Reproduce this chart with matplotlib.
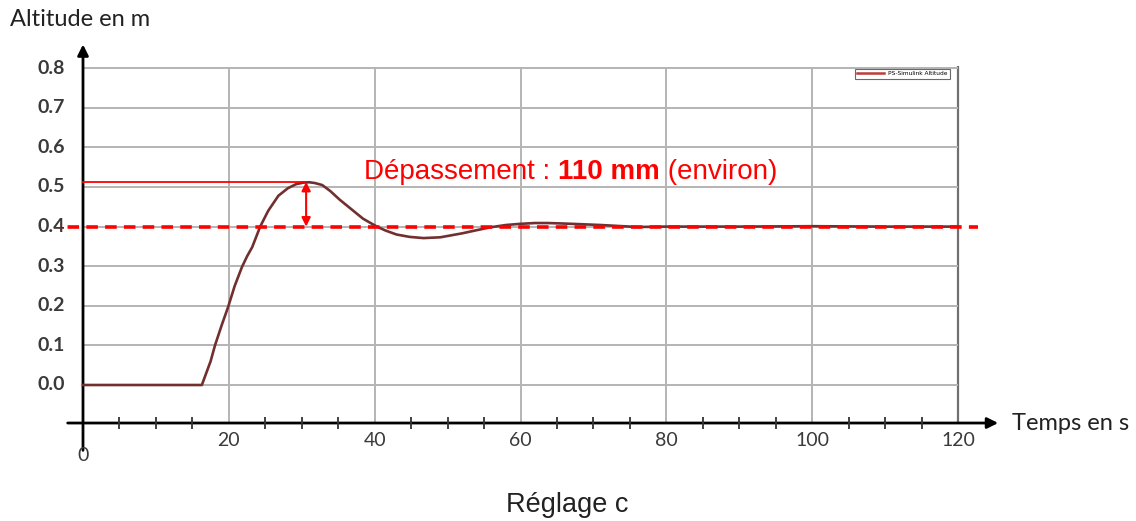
import matplotlib
matplotlib.use('Agg')
import matplotlib.pyplot as plt
import numpy as np

# step response
temps = [0, 16.3, 16.8, 17.5, 18.1, 19.0, 19.9, 20.8, 21.8, 22.5, 23.2, 24.3, 25.4, 26.8, 28.1,
         29.2, 30.2, 31.0, 31.8, 32.8, 33.9, 35.2, 36.8, 38.4, 40.3, 41.5, 43, 44.8, 46.7, 49,
         52, 54, 55.8, 58, 60, 62, 63.7, 65.5, 67, 71, 76, 80, 90, 100, 110, 120]
altitude = [0, 0, 0.025, 0.06, 0.10, 0.15, 0.197, 0.25, 0.298, 0.325, 0.348, 0.40, 0.44, 0.478, 0.497,
            0.507, 0.511, 0.512, 0.51, 0.505, 0.49, 0.468, 0.444, 0.42, 0.40, 0.39, 0.38, 0.374, 0.371, 0.373,
            0.383, 0.391, 0.398, 0.404, 0.407, 0.409, 0.409, 0.408, 0.407, 0.404, 0.399, 0.40, 0.40,
            0.401, 0.40, 0.40]

consigne = 0.40
pic = 0.513
t_pic = 30.6

x_grid = [20, 40, 60, 80, 100, 120]
y_grid = [0.0, 0.1, 0.2, 0.3, 0.4, 0.5, 0.6, 0.7, 0.8]
x_minor = [5, 10, 15, 25, 30, 35, 45, 50, 55, 65, 70, 75, 85, 90, 95, 105, 110, 115]
x_labels = ['20', '40', '60', '80', '100', '120']

W, H = 1136, 521
fig = plt.figure(figsize=(W / 100, H / 100), dpi=100)
# axes spans pixel x 60..1000, y 30..470
ax = fig.add_axes([60 / W, (H - 470) / H, 940 / W, 440 / H])
ax.set_xlim((60 - 83) / 7.292, (1000 - 83) / 7.292)
ax.set_ylim((385 - 470) / 396.0, (385 - 30) / 396.0)
ax.set_axis_off()

y_axe = -0.096
grid_col = '#b4b4b4'

# grid
ax.vlines(x_grid[:-1], y_axe, 0.8, color=grid_col, lw=1.4, zorder=1)
ax.vlines(120, y_axe, 0.805, color='#707070', lw=1.6, zorder=1)
ax.hlines(y_grid, 0, 120, color=grid_col, lw=1.4, zorder=1)

# axes arrows
ax.annotate('', xy=(125.5, y_axe), xytext=(-2.1, y_axe),
            arrowprops=dict(arrowstyle='-|>', lw=2, color='black', mutation_scale=16,
                            shrinkA=0, shrinkB=0), zorder=3)
ax.annotate('', xy=(0, 0.86), xytext=(0, -0.165),
            arrowprops=dict(arrowstyle='-|>', lw=2, color='black', mutation_scale=16,
                            shrinkA=0, shrinkB=0), zorder=3)
ax.vlines(x_minor, y_axe - 0.014, y_axe + 0.014, color='#333333', lw=1.3, zorder=3)

# tick labels
for v in y_grid:
    ax.text(-2.5, v, f'{v:.1f}', ha='right', va='center', fontsize=14,
            fontweight='bold', family='Lato', color='#3a3a3a')
for v, s in zip(x_grid, x_labels):
    ax.text(v, -0.139, s, ha='center', va='center', fontsize=14, family='Lato', color='#3a3a3a')
ax.text(0, -0.177, '0', ha='center', va='center', fontsize=14, family='Lato', color='#3a3a3a')

# response curve
ax.plot(temps, altitude, color='#722f2f', lw=1.9, zorder=4, label='PS-Simulink Altitude')

# overshoot annotation
ax.plot([0, t_pic - 0.2], [pic, pic], color='red', lw=1.3, zorder=5)
ax.plot([-7.3, 122.8], [consigne, consigne], color='red', lw=2.6, ls=(0, (3.2, 2.0)), zorder=5)
ax.annotate('', xy=(t_pic, pic), xytext=(t_pic, consigne),
            arrowprops=dict(arrowstyle='<|-|>', lw=1.5, color='red', mutation_scale=13,
                            shrinkA=0, shrinkB=0), zorder=6)

leg = ax.legend(loc='upper right', bbox_to_anchor=(953 / 940 - 60 / 940, (470 - 66) / 440),
                fontsize=4.2, frameon=True, handlelength=4.5, borderpad=0.4,
                fancybox=False, edgecolor='#444444')
leg.get_frame().set_linewidth(0.8)
leg.get_lines()[0].set_color('#c0393b')
leg.get_lines()[0].set_linewidth(1.8)

t1 = ax.text(38.6, 0.52, 'Dépassement : ', color='red', fontsize=20,
             family='Liberation Sans', va='baseline')
fig.canvas.draw()
r = fig.canvas.get_renderer()
bb = t1.get_window_extent(r)
t2 = fig.text(bb.x1 / W, bb.y0 / H, '110 mm', color='red', fontsize=20,
              family='Liberation Sans', fontweight='bold', va='bottom')
fig.canvas.draw()
bb2 = t2.get_window_extent(r)
fig.text(bb2.x1 / W, bb.y0 / H, ' (environ)', color='red', fontsize=20,
         family='Liberation Sans', va='bottom')

fig.text(10 / W, 1 - 20 / H, 'Altitude en m', fontsize=17, family='Lato',
         va='center', ha='left', color='#222222')
fig.text(1012 / W, 1 - 423 / H, 'Temps en s', fontsize=17, family='Lato',
         va='center', ha='left', color='#222222')
fig.text(567 / W, 1 - 505 / H, 'Réglage c', fontsize=19.5, family='Liberation Sans',
         va='center', ha='center', color='#222222')

fig.savefig('out.png', dpi=100)
